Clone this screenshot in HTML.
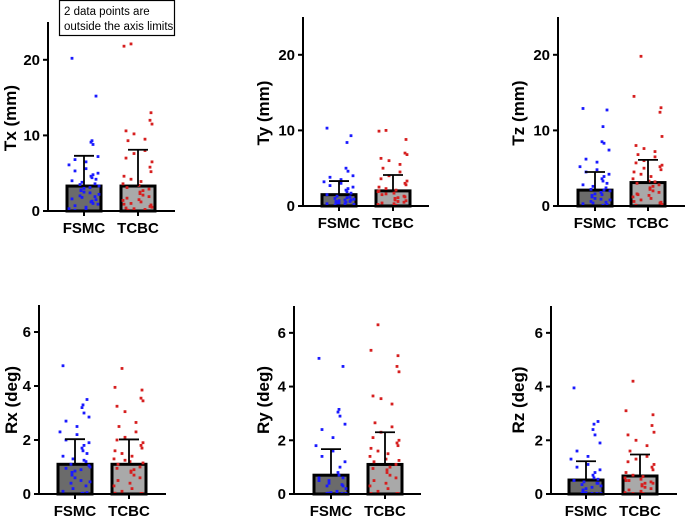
<!DOCTYPE html>
<html><head><meta charset="utf-8"><style>
html,body{margin:0;padding:0;background:#fff;}
svg{display:block;font-family:"Liberation Sans",Arial,sans-serif;}
</style></head><body>
<svg id="chart" width="685" height="519" viewBox="0 0 685 519">
<g>
<rect x="59.5" y="0.5" width="115" height="35" fill="#fff" stroke="#000" stroke-width="1.2"/>
<text x="64" y="15" font-size="11.5" fill="#000">2 data points are</text>
<text x="64" y="30" font-size="11.5" fill="#000">outside the axis limits</text>
</g>
</svg>
<script>
const categories = ["FSMC","TCBC"];
const txMeans = [3.3, 3.3]; const txSdTop = [7.3, 8.1];
const tyMeans = [1.5, 2.0]; const tySdTop = [3.3, 4.1];
const tzMeans = [2.1, 3.1]; const tzSdTop = [4.5, 6.1];
const rxMeans = [1.1, 1.1]; const rxSdTop = [2.03, 2.02];
const ryMeans = [0.7, 1.1]; const rySdTop = [1.67, 2.3];
const rzMeans = [0.52, 0.67]; const rzSdTop = [1.22, 1.47];
const mmTicks = [0, 10, 20];
const degTicks = [0, 2, 4, 6];
const txF = [20.2,15.2,9.3,9.1,8.8,7.2,6.8,6.5,6.1,5.6,5.3,5.0,4.8,4.6,4.4,4.2,4.0,3.8,3.6,3.5,3.3,3.1,3.0,2.8,2.7,2.5,2.4,2.2,2.0,1.9,1.8,1.6,1.5,1.3,1.2,1.0,0.9,0.7,0.5,0.3,0.2,0.1];
const txT = [22.1,21.8,13,12,11.5,10.6,10.2,9.5,9.3,8.0,7.6,7.0,6.5,5.8,5.2,4.6,4.2,3.9,3.6,3.4,3.1,2.9,2.7,2.5,2.3,2.1,1.9,1.7,1.5,1.4,1.2,1.0,0.9,0.8,0.6,0.5,0.4,0.3,0.2,0.1];
const tyF = [10.3,9.3,8.4,5.0,4.6,4.0,3.8,3.5,3.2,3.0,2.7,2.5,2.3,2.1,1.9,1.7,1.5,1.3,1.2,1.0,0.9,0.8,0.7,0.6,0.5,0.4,0.3,0.2,0.1,0.6,0.4,0.3,0.8,1.1,0.5];
const tyT = [10,9.9,8.8,7.0,6.8,6.3,6.0,5.5,5.0,4.5,4.0,3.6,3.3,3.0,2.8,2.5,2.3,2.1,1.9,1.7,1.5,1.3,1.1,1.0,0.8,0.6,0.5,0.4,0.3,0.2,0.1,1.6,2.0,0.7,1.2];
const tzF = [12.9,12.7,10.5,8.5,8.3,7.4,6.2,5.8,5.2,4.8,4.5,4.2,3.9,3.6,3.3,3.0,2.8,2.6,2.4,2.2,2.0,1.8,1.6,1.4,1.2,1.0,0.9,0.8,0.6,0.5,0.4,0.3,0.2,0.1,1.5,2.1];
const tzT = [19.8,14.5,13,12.4,9.2,8.0,7.6,7.2,6.8,6.5,6.0,5.7,5.4,5.2,4.8,4.5,4.2,3.9,3.6,3.3,3.0,2.8,2.6,2.4,2.2,2.0,1.8,1.6,1.4,1.2,1.0,0.8,0.6,0.5,0.4,0.2,0.1,5.0,3.2,1.5];
const rxF = [4.75,3.5,3.3,3.2,3.0,2.85,2.7,2.5,2.3,2.2,2.0,1.9,1.8,1.7,1.6,1.5,1.4,1.3,1.2,1.1,1.0,0.9,0.85,0.8,0.7,0.6,0.5,0.45,0.4,0.3,0.2,0.1,0.05,0.03,0.02,1.25,1.05,0.95];
const rxT = [4.65,3.95,3.85,3.55,3.45,3.25,3.05,2.65,2.5,2.3,2.1,2.0,1.9,1.8,1.7,1.6,1.5,1.4,1.3,1.2,1.1,1.0,0.9,0.85,0.8,0.7,0.6,0.5,0.4,0.3,0.2,0.1,0.03,0.02,0.02,1.15,0.95,1.25];
const ryF = [5.05,4.75,3.15,3.05,2.9,2.6,2.4,2.1,1.8,1.6,1.4,1.2,1.0,0.8,0.7,0.6,0.5,0.4,0.35,0.3,0.2,0.1,0.05,0.03,0.02,0.02,0.02,0.02,0.02,0.02,0.5,0.6,0.3];
const ryT = [6.3,5.35,5.15,4.75,4.55,3.65,3.55,3.35,2.65,2.5,2.3,2.1,2.0,1.9,1.8,1.7,1.6,1.5,1.4,1.3,1.2,1.1,1.0,0.9,0.8,0.7,0.6,0.5,0.4,0.3,0.2,0.1,0.02,0.02,0.02,1.25,0.95];
const rzF = [3.95,2.7,2.6,2.4,2.2,1.9,1.6,1.4,1.3,1.1,1.0,0.9,0.8,0.7,0.6,0.55,0.5,0.45,0.4,0.35,0.3,0.25,0.2,0.15,0.1,0.05,0.02,0.02,0.02,0.02,0.02,0.5,0.4];
const rzT = [4.2,3.1,2.95,2.55,2.3,2.2,2.0,1.8,1.6,1.4,1.3,1.2,1.1,1.0,0.9,0.8,0.7,0.65,0.6,0.55,0.5,0.45,0.4,0.35,0.3,0.25,0.2,0.15,0.1,0.05,0.02,0.02,0.5,0.4];

const NS = "http://www.w3.org/2000/svg";
const svg = document.getElementById("chart");
function mk(tag, attrs, parent){ const e=document.createElementNS(NS,tag); for(const k in attrs) e.setAttribute(k,attrs[k]); (parent||svg).appendChild(e); return e; }

const panels = [
 {id:"tx", title:"Tx (mm)", ax:48, zero:211, top:22, max:25, end:175, bars:[84,138], tx:10, ty:118, ticks:mmTicks, means:txMeans, sd:txSdTop, pts:[txF,txT]},
 {id:"ty", title:"Ty (mm)", ax:303, zero:206, top:17, max:25, end:429, bars:[339,393], tx:263, ty:113, ticks:mmTicks, means:tyMeans, sd:tySdTop, pts:[tyF,tyT]},
 {id:"tz", title:"Tz (mm)", ax:558, zero:206, top:17, max:25, end:685, bars:[595,648], tx:518, ty:113, ticks:mmTicks, means:tzMeans, sd:tzSdTop, pts:[tzF,tzT]},
 {id:"rx", title:"Rx (deg)", ax:39, zero:494, top:305, max:7, end:166, bars:[75,129], tx:11, ty:400, ticks:degTicks, means:rxMeans, sd:rxSdTop, pts:[rxF,rxT]},
 {id:"ry", title:"Ry (deg)", ax:294, zero:494, top:306, max:7, end:421, bars:[331,385], tx:263, ty:400, ticks:degTicks, means:ryMeans, sd:rySdTop, pts:[ryF,ryT]},
 {id:"rz", title:"Rz (deg)", ax:551, zero:494, top:306, max:7, end:677, bars:[586,640], tx:518, ty:400, ticks:degTicks, means:rzMeans, sd:rzSdTop, pts:[rzF,rzT]}
];
const fills = ["#6b6b6b","#a9a9a9"];
const dotCols = ["#1a1aff","#d61f1f"];

panels.forEach(p=>{
  const g = mk("g",{});
  
  
  const y = v => p.zero - v*(p.zero-p.top)/p.max;
  categories.forEach((c,i)=>{
    const cx=p.bars[i];
    const b = mk("rect",{x:cx-17,y:y(p.means[i]),width:34,height:p.zero-y(p.means[i]),fill:fills[i],stroke:"#000","stroke-width":3},g);
    
    
  });
  p.pts.forEach((arr,i)=>{
    const cx=p.bars[i];
    arr.forEach((v,k)=>{
      if(v>p.max) return;
      const off = ((k*k*17 + k*7 + 3 + i*5) % 31) - 15;
      const d = mk("rect",{x:cx+off-1.4,y:y(v)-1.4,width:2.8,height:2.8,fill:dotCols[i]},g);
      
      
    });
  });
  categories.forEach((c,i)=>{
    const cx=p.bars[i];
    const e = mk("path",{d:`M${cx},${y(p.means[i])}V${y(p.sd[i])}M${cx-10},${y(p.sd[i])}H${cx+10}`,stroke:"#000","stroke-width":1.8,fill:"none"},g);
    
    
  });
  const ya = mk("line",{x1:p.ax,y1:p.top,x2:p.ax,y2:p.zero+1,stroke:"#000","stroke-width":2},g);
  
  
  const xa = mk("line",{x1:p.ax-1,y1:p.zero,x2:p.end,y2:p.zero,stroke:"#000","stroke-width":2},g);
  
  
  p.ticks.forEach(t=>{
    mk("line",{x1:p.ax-5,y1:y(t),x2:p.ax,y2:y(t),stroke:"#000","stroke-width":2},g);
    const tl = mk("text",{x:p.ax-8,y:y(t)+5,"text-anchor":"end","font-size":15,"font-weight":"bold"},g);
    tl.textContent=t;
    
    
  });
  categories.forEach((c,i)=>{
    mk("line",{x1:p.bars[i],y1:p.zero,x2:p.bars[i],y2:p.zero+5,stroke:"#000","stroke-width":2},g);
    const cl = mk("text",{x:p.bars[i],y:p.zero+22,"text-anchor":"middle","font-size":15,"font-weight":"bold"},g);
    cl.textContent=c;
    
    
  });
  const ti = mk("text",{x:0,y:0,"text-anchor":"middle","font-size":17,"font-weight":"bold",transform:`translate(${p.tx+6},${p.ty}) rotate(-90)`},g);
  ti.textContent=p.title;
  
  
});
</script>
</body></html>
